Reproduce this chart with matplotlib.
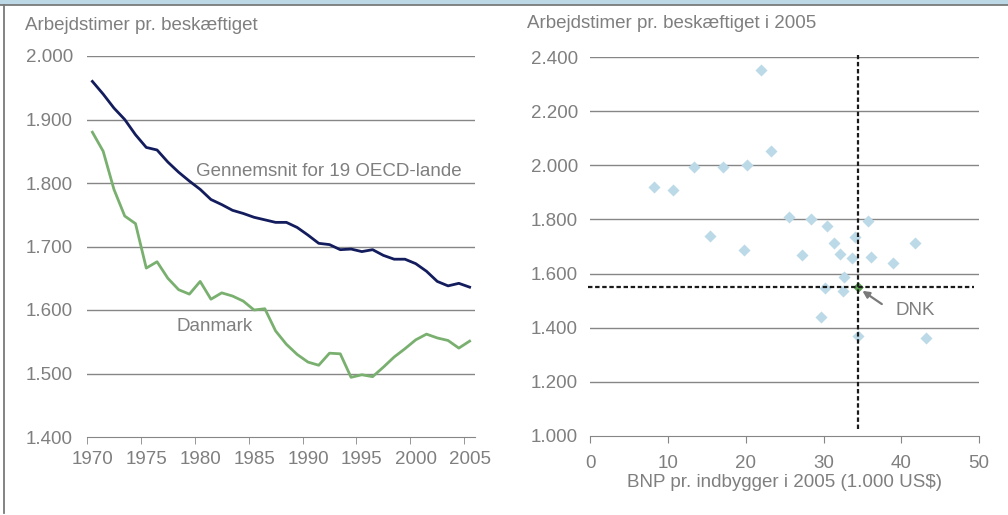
import matplotlib
matplotlib.use("Agg")
import matplotlib.pyplot as plt
from matplotlib.lines import Line2D
from matplotlib.patches import Rectangle
import numpy as np

plt.rcParams['font.family'] = ['Liberation Sans', 'DejaVu Sans']

# --- Data: venstre panel ---
years = list(range(1970, 2006))
oecd = [1960, 1940, 1918, 1900, 1876, 1856, 1852, 1833, 1817, 1803,
        1790, 1774, 1766, 1757, 1752, 1746, 1742, 1738, 1738, 1730,
        1718, 1705, 1703, 1695, 1696, 1692, 1695, 1686, 1680, 1680,
        1673, 1661, 1645, 1638, 1642, 1636]
danmark = [1880, 1850, 1790, 1748, 1736, 1666, 1676, 1650, 1632, 1625,
           1645, 1617, 1627, 1622, 1614, 1600, 1602, 1567, 1546, 1530,
           1518, 1513, 1532, 1531, 1494, 1498, 1495, 1510, 1526, 1539,
           1553, 1562, 1556, 1552, 1540, 1551]

# --- Data: hoejre panel (BNP pr. indbygger, arbejdstimer) ---
bnp = [21.9, 23.2, 13.3, 17.1, 20.1, 8.2, 10.7, 25.6, 28.4, 30.5,
       35.7, 15.4, 34.0, 31.3, 41.8, 19.8, 27.2, 32.1, 33.6, 36.1,
       39.0, 32.6, 30.2, 32.5, 29.7, 34.4, 43.2]
timer = [2354, 2053, 1994, 1994, 2003, 1919, 1909, 1809, 1802, 1777,
         1795, 1737, 1735, 1714, 1714, 1687, 1668, 1672, 1658, 1661,
         1639, 1588, 1547, 1534, 1438, 1369, 1362]
dnk_bnp = 34.4
dnk_timer = 1552

txt = '#7f7f7f'
grid = '#868686'
fs = 13.5

fig = plt.figure(figsize=(10.08, 5.15), dpi=100)

# ramme
fig.patches.append(Rectangle((0, 511/515), 1, 4/515, transform=fig.transFigure,
                             color='#bcd8e6', zorder=0))
fig.lines.append(Line2D([0, 1], [510/515, 510/515], transform=fig.transFigure,
                        color='#7a7a7a', lw=1.3))
fig.lines.append(Line2D([4/1008, 4/1008], [2/515, 510/515], transform=fig.transFigure,
                        color='#7a7a7a', lw=1.3))

# --- Venstre panel ---
ax1 = fig.add_axes([87/1008, 78/515, 388/1008, 381/515])
ax1.plot(years, oecd, color='#131c5c', lw=2.0)
ax1.plot(years, danmark, color='#79b06f', lw=2.0)
ax1.set_xlim(1969.5, 2005.5)
ax1.set_ylim(1400, 2000)
ax1.set_yticks(range(1400, 2001, 100))
ax1.set_yticklabels([f'{v/1000:.3f}' for v in range(1400, 2001, 100)])
ax1.set_xticks(range(1970, 2006, 5))
ax1.set_xticks(np.arange(1969.5, 2005, 5), minor=True)
ax1.tick_params(axis='x', which='major', length=0, pad=10, labelsize=fs, labelcolor=txt)
ax1.tick_params(axis='x', which='minor', length=5, color=grid, direction='out')
ax1.tick_params(axis='y', length=0, pad=10, labelsize=fs, labelcolor=txt)
for y in range(1500, 2001, 100):
    ax1.axhline(y, color=grid, lw=1.0, zorder=0)
for s in ['top', 'right', 'left']:
    ax1.spines[s].set_visible(False)
ax1.spines['bottom'].set_color(grid)
ax1.text(1991.9, 1818, 'Gennemsnit for 19 OECD-lande', color=txt, fontsize=fs,
         ha='center', va='center')
ax1.text(1981.3, 1574, 'Danmark', color=txt, fontsize=fs, ha='center', va='center')
fig.text(25/1008, 1 - 26/515, 'Arbejdstimer pr. beskæftiget', color=txt,
         fontsize=fs, ha='left', va='center')

# --- Hoejre panel ---
ax2 = fig.add_axes([590.3/1008, 79.3/515, 388.7/1008, 378.4/515])
ax2.scatter(bnp, timer, marker='D', s=38, color='#bcd9e8', zorder=3, linewidths=0)
ax2.scatter([dnk_bnp], [dnk_timer], marker='D', s=30, color='#5f9e55', zorder=4, linewidths=0)
ax2.plot([dnk_bnp, dnk_bnp], [1024, 2408], color='#1a1a1a', lw=1.6,
         ls=(0, (2, 1.2)), zorder=5, clip_on=False)
ax2.plot([-0.3, 49.3], [dnk_timer, dnk_timer], color='#1a1a1a', lw=1.6,
         ls=(0, (2, 1.2)), zorder=5, clip_on=False)
ax2.annotate('', xy=(35.0, 1536), xytext=(37.5, 1487),
             arrowprops=dict(arrowstyle='-|>', color='#7a7a7a', lw=1.6,
                             mutation_scale=10, shrinkA=0, shrinkB=0), zorder=6)
ax2.text(39.3, 1462, 'DNK', color=txt, fontsize=fs, ha='left', va='center')
ax2.set_xlim(0, 50)
ax2.set_ylim(1000, 2400)
ax2.set_xticks(range(0, 51, 10))
ax2.set_yticks(range(1000, 2401, 200))
ax2.set_yticklabels([f'{v/1000:.3f}' for v in range(1000, 2401, 200)])
ax2.tick_params(axis='x', length=5, color=grid, direction='out', pad=9,
                labelsize=fs, labelcolor=txt)
ax2.tick_params(axis='y', length=0, pad=9, labelsize=fs, labelcolor=txt)
for y in range(1200, 2401, 200):
    ax2.axhline(y, color=grid, lw=1.0, zorder=0)
for s in ['top', 'right', 'left']:
    ax2.spines[s].set_visible(False)
ax2.spines['bottom'].set_color(grid)
ax2.set_xlabel('BNP pr. indbygger i 2005 (1.000 US$)', color=txt, fontsize=fs,
               labelpad=1)
fig.text(527/1008, 1 - 24/515, 'Arbejdstimer pr. beskæftiget i 2005', color=txt,
         fontsize=fs, ha='left', va='center')

fig.savefig('out.png', dpi=100, facecolor='white')
